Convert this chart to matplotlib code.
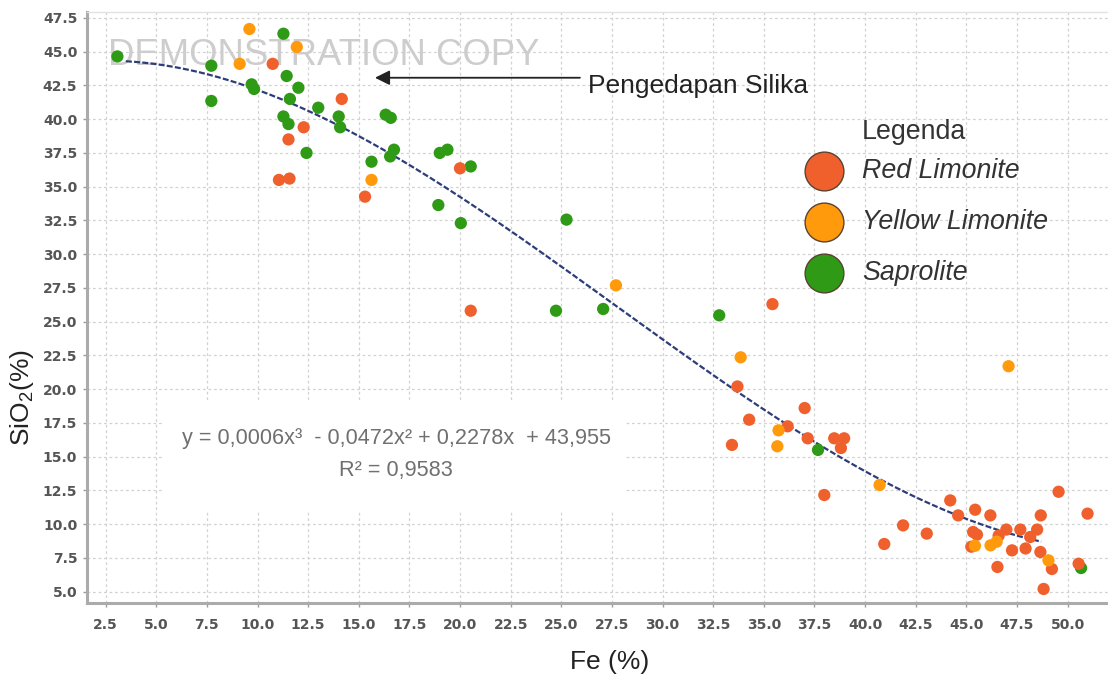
import numpy as np
import matplotlib
matplotlib.use("Agg")
import matplotlib.pyplot as plt
from matplotlib import font_manager as fm
from matplotlib.patches import Rectangle

# ---------------- data ----------------
sap_fe = [3.08, 7.72, 7.72, 9.71, 9.83, 11.28, 11.44, 12.02, 11.6, 11.28, 11.53, 12.42,
          13.0, 14.01, 14.08, 15.63, 16.33, 16.58, 16.74, 16.55, 19.0, 19.38, 20.53,
          18.93, 20.04, 25.26, 24.74, 27.07, 32.8, 37.68, 50.67]
sap_si = [44.65, 43.96, 41.35, 42.58, 42.24, 46.33, 43.2, 42.33, 41.5, 40.2, 39.64, 37.5,
          40.85, 40.2, 39.4, 36.85, 40.33, 40.1, 37.74, 37.24, 37.5, 37.74, 36.5,
          33.64, 32.3, 32.56, 25.81, 25.94, 25.47, 15.5, 6.75]

red_fe = [10.75, 14.16, 12.28, 11.53, 11.06, 11.58, 15.31, 20.0, 20.53, 35.43, 33.7, 34.28,
          33.43, 36.18, 37.02, 37.17, 38.48, 38.97, 38.81, 37.99, 40.95, 41.88, 43.05,
          44.21, 44.6, 45.44, 45.34, 45.53, 45.25, 46.19, 46.6, 46.98, 46.54, 47.26,
          47.67, 47.93, 48.16, 48.5, 48.68, 48.66, 49.56, 49.23, 48.82, 50.99, 50.55]
red_si = [44.1, 41.5, 39.4, 38.5, 35.5, 35.6, 34.26, 36.36, 25.81, 26.3, 20.2, 17.74,
          15.87, 17.25, 18.6, 16.36, 16.36, 16.36, 15.64, 12.16, 8.53, 9.91, 9.3,
          11.76, 10.65, 11.07, 9.42, 9.22, 8.33, 10.65, 9.15, 9.6, 6.83, 8.06,
          9.6, 8.2, 9.05, 9.6, 10.65, 7.94, 12.4, 6.68, 5.2, 10.78, 7.07]

yel_fe = [9.6, 11.94, 9.12, 15.63, 27.7, 33.86, 35.73, 35.67, 40.72, 45.43, 46.2, 46.5,
          49.06, 47.09]
yel_si = [46.68, 45.35, 44.1, 35.5, 27.69, 22.36, 16.95, 15.77, 12.9, 8.4, 8.43, 8.7,
          7.32, 21.7]

series_names = ["Red Limonite", "Yellow Limonite", "Saprolite"]
series_colors = ["#f0602d", "#ff9a0c", "#2e9a16"]

x_ticks = [2.5, 5.0, 7.5, 10.0, 12.5, 15.0, 17.5, 20.0, 22.5, 25.0, 27.5, 30.0, 32.5,
           35.0, 37.5, 40.0, 42.5, 45.0, 47.5, 50.0]
y_ticks = [5.0, 7.5, 10.0, 12.5, 15.0, 17.5, 20.0, 22.5, 25.0, 27.5, 30.0, 32.5, 35.0,
           37.5, 40.0, 42.5, 45.0, 47.5]
trend_range = [3.5, 48.7]

equation_text = "y = 0,0006x³  - 0,0472x² + 0,2278x  + 43,955"
r2_text = "R² = 0,9583"


# ---------------- fonts ----------------
def has_font(name):
    try:
        fm.findfont(fm.FontProperties(family=name), fallback_to_default=False)
        return True
    except Exception:
        return False


NARROW_OK = has_font("Liberation Sans Narrow")
NARROW = "Liberation Sans Narrow" if NARROW_OK else "Liberation Sans"
WM_SIZE = 31.5 if NARROW_OK else 26.3
EQ_SIZE = 17 if NARROW_OK else 15.6
SANS = "Liberation Sans"
plt.rcParams["font.family"] = [SANS, "DejaVu Sans"]
plt.rcParams["mathtext.fontset"] = "custom"
plt.rcParams["mathtext.rm"] = SANS

# ---------------- figure ----------------
fig = plt.figure(figsize=(11.08, 6.77), dpi=100)
fig.patch.set_facecolor("white")
ax = fig.add_axes([87 / 1108, 1 - 603 / 677, 1 - 87 / 1108, (603 - 12) / 677])
ax.set_xlim(1.58, 52.0)
ax.set_ylim(4.16, 47.94)
ax.set_axisbelow(True)

ax.set_xticks(x_ticks)
ax.set_yticks(y_ticks)
ax.set_xticklabels([f"{v:.1f}" for v in x_ticks])
ax.set_yticklabels([f"{v:.1f}" for v in y_ticks])
for lab in ax.get_xticklabels() + ax.get_yticklabels():
    lab.set_fontfamily("DejaVu Sans")
    lab.set_fontweight("bold")
    lab.set_fontsize(10)
    lab.set_color("#555555")
ax.tick_params(axis="both", length=3, width=1, color="#9a9a9a")
ax.tick_params(axis="x", pad=8)
ax.tick_params(axis="y", pad=4)

ax.grid(True, color="#d2d2d2", linestyle=(0, (2.2, 2.2)), linewidth=0.9)

for side in ("left", "bottom"):
    ax.spines[side].set_color("#ababab")
    ax.spines[side].set_linewidth(2.2)
ax.spines["top"].set_color("#e2e2e2")
ax.spines["top"].set_linewidth(1.0)
ax.spines["right"].set_visible(False)

# watermark
ax.text(0.0206, 0.9103, "DEMONSTRATION COPY", transform=ax.transAxes,
        fontfamily=NARROW, fontsize=WM_SIZE, color="#cdcdcd", ha="left", va="baseline",
        zorder=1)

# white box behind equation
ax.add_patch(Rectangle((5.38, 10.9), 28.14 - 5.38, 19.13 - 10.9,
                       facecolor="white", edgecolor="none", zorder=1))
ax.text(16.84, 16.31, equation_text, fontfamily=NARROW, fontsize=EQ_SIZE, color="#707070",
        ha="center", va="center", zorder=2)
ax.text(16.84, 13.94, r2_text, fontfamily=NARROW, fontsize=EQ_SIZE, color="#707070",
        ha="center", va="center", zorder=2)

# trendline (cubic polynomial fit of all samples)
all_fe = np.array(sap_fe + red_fe + yel_fe)
all_si = np.array(sap_si + red_si + yel_si)
coef = np.polyfit(all_fe, all_si, 3)
xx = np.linspace(trend_range[0], trend_range[1], 300)
ax.plot(xx, np.polyval(coef, xx), color="#2d3d7a", linewidth=1.6,
        dashes=(2.7, 1.0), zorder=3)

# scatter
ms = 78
ax.scatter(sap_fe, sap_si, s=ms, color=series_colors[2], edgecolors="none", zorder=4)
ax.scatter(red_fe, red_si, s=ms, color=series_colors[0], edgecolors="none", zorder=5)
ax.scatter(yel_fe, yel_si, s=ms, color=series_colors[1], edgecolors="none", zorder=6)

# annotation
ax.annotate("", xy=(15.8, 43.07), xytext=(25.92, 43.07),
            arrowprops=dict(arrowstyle="-|>", color="#222222", lw=1.3,
                            mutation_scale=22, shrinkA=0, shrinkB=0), zorder=7)
ax.text(26.32, 41.94, "Pengedapan Silika", fontsize=19, color="#222222",
        ha="left", va="baseline", zorder=7)

# legend (manual)
leg_x_circle = 0.7218
leg_x_text = 0.759
leg_ys = [0.731, 0.6447, 0.5584]
ax.text(leg_x_text, 0.797, "Legenda", transform=ax.transAxes, fontsize=19.3,
        color="#333333", ha="left", va="center")
for name, col, yy in zip(series_names, series_colors, leg_ys):
    ax.scatter([leg_x_circle], [yy], s=780, color=col, edgecolors="#5a4232",
               linewidths=1.0, transform=ax.transAxes, zorder=8, clip_on=False)
    ax.text(leg_x_text, yy, name, transform=ax.transAxes, fontsize=19.3,
            fontstyle="italic", color="#333333", ha="left", va="center")

# axis labels
fig.text(610 / 1108, 1 - 662 / 677, "Fe (%)", fontsize=19, color="#222222",
         ha="center", va="center")
fig.text(22 / 1108, 1 - 398 / 677, "SiO$_2$(%)", fontsize=19, color="#222222",
         ha="center", va="center", rotation=90)

fig.savefig("out.png", dpi=100, facecolor="white")
